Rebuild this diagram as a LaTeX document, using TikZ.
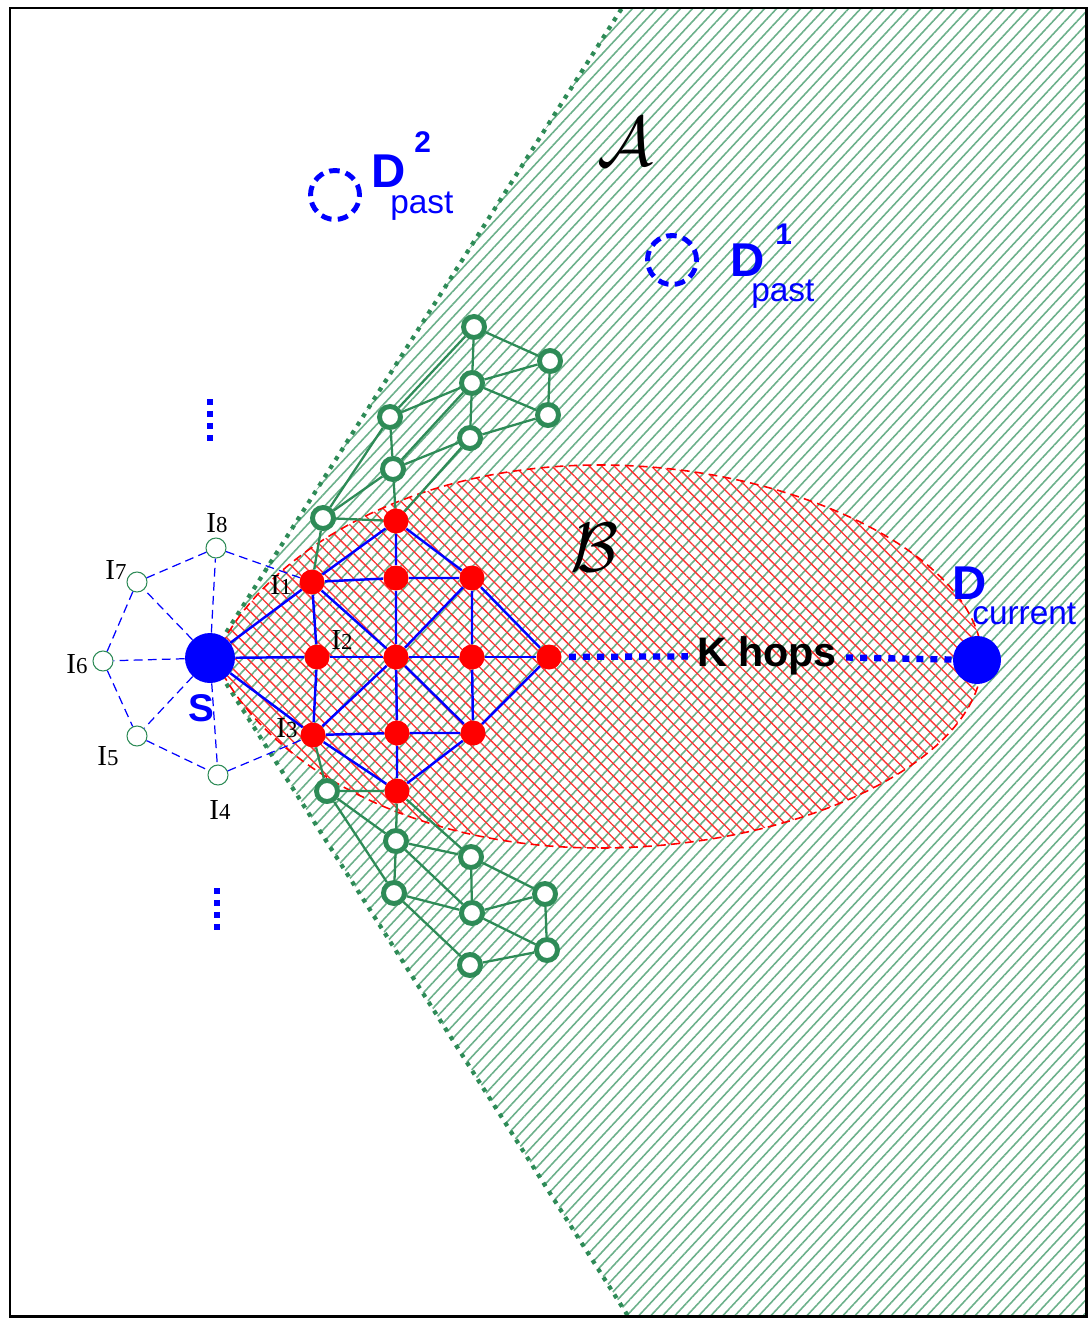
\documentclass[tikz,border=0pt]{standalone}
\usepackage{fontspec}
\setmainfont{Liberation Serif}
\setsansfont{Liberation Sans}
\usepackage{amsmath}
\usepackage{xcolor}
\definecolor{NetGreen}{HTML}{2E8B57}
\definecolor{HatchGreen}{HTML}{6BB08A}
\definecolor{HatchRed}{HTML}{FF3030}
\definecolor{NodeBlue}{HTML}{0000FF}
\definecolor{NodeRed}{HTML}{FF0000}
\usetikzlibrary{patterns.meta}

\newcommand{\idx}[1]{{\fontsize{13}{13}\selectfont #1}}

\begin{document}
\begin{tikzpicture}[
  x=0.02cm, y=-0.02cm,
  src/.style={
    circle,
    fill=NodeBlue,
    minimum size=1cm,
    inner sep=0pt
  },
  relay/.style={circle, fill=NodeRed, minimum size=0.5cm, inner sep=0pt},
  nbr/.style={
    circle,
    draw=NetGreen,
    fill=white,
    line width=2.8pt,
    minimum size=0.42cm,
    inner sep=0pt
  },
  ringnode/.style={circle, draw=NetGreen, fill=white, line width=0.6pt,
    minimum size=0.4cm, inner sep=0pt},
  pastnode/.style={circle, draw=NodeBlue, line width=2.8pt,
    dash pattern=on 6pt off 3.6pt, minimum size=0.98cm, inner sep=0pt},
  ilab/.style={inner sep=0pt, font=\fontsize{16.5}{16.5}\selectfont},
  dlab/.style={inner sep=0pt, anchor=base west, text=NodeBlue,
    font=\sffamily\bfseries\fontsize{27}{27}\selectfont},
  suplab/.style={inner sep=0pt, anchor=base west, text=NodeBlue,
    font=\sffamily\bfseries\fontsize{17}{17}\selectfont},
  sublab/.style={inner sep=0pt, anchor=base west, text=NodeBlue,
    font=\sffamily\fontsize{19}{19}\selectfont},
  lat/.style={NodeBlue, line width=1.4pt},
  link/.style={NetGreen, line width=1.3pt},
  ringlink/.style={NodeBlue, line width=0.7pt, dash pattern=on 5pt off 3pt},
  hops/.style={NodeBlue, line width=3.6pt, dash pattern=on 4pt off 4pt},
  bound/.style={NetGreen, line width=2.4pt, dash pattern=on 2.4pt off 3.4pt},
  vdots/.style={NodeBlue, line width=3.4pt, dash pattern=on 3.4pt off 3.4pt}
]
\useasboundingbox (0,0) rectangle (1090,1318);

% =========================================================
% REGION A (wedge) AND REGION B (lens)
% =========================================================

\coordinate (apex) at (210,658);
\coordinate (wtop) at (622,8);
\coordinate (wbot) at (628,1316);

\fill[pattern={Lines[angle=47,distance=5pt,line width=0.9pt]},
  pattern color=HatchGreen]
  (apex) -- (wtop) -- (1086,8) -- (1086,1316) -- (wbot) -- cycle;

\draw[bound] (apex) -- (wtop);
\draw[bound] (apex) -- (wbot);

\coordinate (lensL) at (215,658);
\coordinate (lensR) at (982,660);

\draw[red, line width=0.9pt, dash pattern=on 5pt off 3pt,
  pattern={Lines[angle=-45,distance=5pt,line width=0.75pt]}, pattern color=HatchRed]
  (lensL) .. controls (258,560) and (400,465) .. (600,465)
  .. controls (800,465) and (982,560) .. (lensR)
  .. controls (982,760) and (800,848) .. (600,848)
  .. controls (400,848) and (258,756) .. (lensL) -- cycle;

% =========================================================
% SOURCE, DESTINATIONS
% =========================================================

\node[src] (S) at (210,658) {};
\node[src, minimum size=0.96cm] (Dc) at (977,660) {};

\node[pastnode] (Dp2) at (335,195) {};
\node[pastnode] (Dp1) at (672,260) {};

% =========================================================
% NEIGHBOURS OF S
% =========================================================

\node[ringnode] (I4) at (218,775) {};
\node[ringnode] (I5) at (137,736) {};
\node[ringnode] (I6) at (103,661) {};
\node[ringnode] (I7) at (137,582) {};
\node[ringnode] (I8) at (216,548) {};

\node[relay] (rT) at (396,521) {};
\node[relay] (I1) at (312,582) {};
\node[relay] (rA) at (396,578) {};
\node[relay] (rB) at (472,578) {};
\node[relay] (I2) at (317,657) {};
\node[relay] (rC) at (396,657) {};
\node[relay] (rD) at (472,657) {};
\node[relay] (rF) at (549,657) {};
\node[relay] (I3) at (313,735) {};
\node[relay] (rE) at (397,733) {};
\node[relay] (rG) at (473,733) {};
\node[relay] (rBt) at (397,791) {};

% =========================================================
% OUTER NODES (upper and lower)
% =========================================================

\node[nbr] (nu1) at (474,327) {};
\node[nbr] (nu2) at (550,361) {};
\node[nbr] (nu3) at (472,383) {};
\node[nbr] (nu4) at (548,415) {};
\node[nbr] (nu5) at (390,417) {};
\node[nbr] (nu6) at (470,438) {};
\node[nbr] (nu7) at (393,469) {};
\node[nbr] (nu8) at (323,518) {};

\node[nbr] (nl1) at (327,791) {};
\node[nbr] (nl2) at (396,841) {};
\node[nbr] (nl3) at (471,857) {};
\node[nbr] (nl4) at (394,893) {};
\node[nbr] (nl5) at (545,894) {};
\node[nbr] (nl6) at (472,913) {};
\node[nbr] (nl7) at (547,950) {};
\node[nbr] (nl8) at (470,965) {};

% =========================================================
% LINKS
% =========================================================

\draw[ringlink] (S)--(I4) (S)--(I5) (S)--(I6) (S)--(I7) (S)--(I8);
\draw[ringlink] (I8)--(I7) (I7)--(I6) (I6)--(I5) (I5)--(I4);
\draw[ringlink] (I8)--(I1) (I4)--(I3);

\draw[lat] (S)--(I1) (S)--(I2) (S)--(I3);
\draw[lat] (rT)--(I1) (rT)--(rA) (rT)--(rB);
\draw[lat] (I1)--(rA) (rA)--(rB) (I1)--(I2) (I2)--(I3);
\draw[lat] (I1)--(rC) (rA)--(rC) (rB)--(rC) (rB)--(rD) (rB)--(rF);
\draw[lat] (I2)--(rC) (rC)--(rD) (rD)--(rF);
\draw[lat] (I3)--(rC) (rC)--(rE) (rC)--(rG) (rD)--(rG) (rF)--(rG);
\draw[lat] (I3)--(rE) (rE)--(rG) (I3)--(rBt) (rE)--(rBt) (rG)--(rBt);

\draw[link] (nu1)--(nu2) (nu1)--(nu3) (nu1)--(nu5) (nu3)--(nu2);
\draw[link] (nu3)--(nu4) (nu2)--(nu4) (nu3)--(nu5) (nu3)--(nu7);
\draw[link] (nu6)--(nu4) (nu6)--(nu3) (nu6)--(nu7) (nu5)--(nu7);
\draw[link] (nu5)--(nu8) (nu7)--(nu8) (nu7)--(rT) (nu6)--(rT);
\draw[link] (nu8)--(rT) (nu8)--(I1);

\draw[link] (nl1)--(rBt) (nl1)--(nl2) (nl1)--(nl4) (nl1)--(I3);
\draw[link] (rBt)--(nl2) (rBt)--(nl3) (nl2)--(nl3) (nl2)--(nl4);
\draw[link] (nl2)--(nl6) (nl3)--(nl5) (nl3)--(nl6) (nl4)--(nl6);
\draw[link] (nl4)--(nl8) (nl6)--(nl5) (nl6)--(nl7) (nl5)--(nl7);
\draw[link] (nl8)--(nl7);

% K hops to the current destination
\node[font=\sffamily\bfseries\fontsize{23.5}{23.5}\selectfont, inner sep=5pt]
  (khops) at (767,656) {K hops};
\draw[hops, shorten <=4pt] (rF)--(khops);
\draw[hops] (khops)--(Dc);

% =========================================================
% LABELS
% =========================================================

\node[ilab] (lI1) at (281,585) {I\idx{1}};
\node[ilab] (lI2) at (342,640) {I\idx{2}};
\node[ilab] (lI3) at (287,728) {I\idx{3}};
\node[ilab] (lI4) at (220,810) {I\idx{4}};
\node[ilab] (lI5) at (108,756) {I\idx{5}};
\node[ilab] (lI6) at (77,664) {I\idx{6}};
\node[ilab] (lI7) at (116,570) {I\idx{7}};
\node[ilab] (lI8) at (217,523) {I\idx{8}};

\node[inner sep=0pt, text=NodeBlue,
  font=\sffamily\bfseries\fontsize{22}{22}\selectfont] (slab) at (201,708) {S};

\node[dlab] (lDp2) at (371,187) {D};
\node[suplab] (lDp2s) at (414,153) {2};
\node[sublab] (lDp2b) at (390,213) {past};

\node[dlab] (lDp1) at (730,276) {D};
\node[suplab] (lDp1s) at (775,244) {1};
\node[sublab] (lDp1b) at (751,301) {past};

\node[dlab] (lDc) at (952,599) {D};
\node[sublab] (lDcb) at (972,624) {current};

\node[scale=1.6] (calA) at (625,142) {\Huge$\mathcal{A}$};
\node[scale=1.6] (calB) at (595,548) {\Huge$\mathcal{B}$};

% vertical dots
\draw[vdots] (210,399) -- (210,441);
\draw[vdots] (217,888) -- (217,930);

% frame
\draw[line width=1.7pt] (10,8) rectangle (1086,1316);

\end{tikzpicture}
\end{document}
